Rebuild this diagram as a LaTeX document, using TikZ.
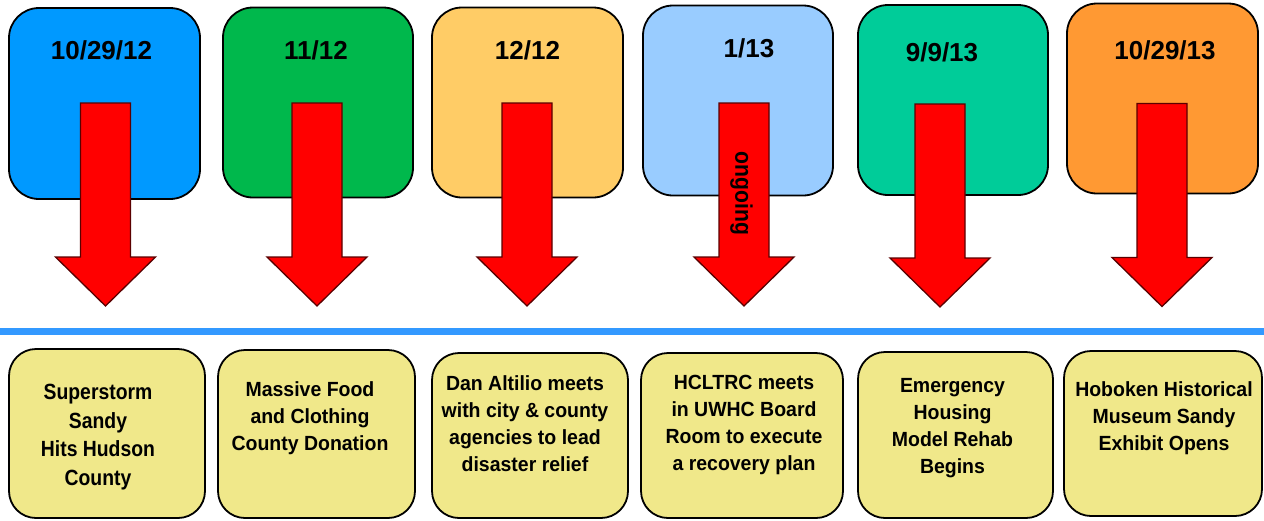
\documentclass[tikz,border=0pt]{standalone}
\usepackage{fontspec}
\setmainfont{Liberation Sans}
\newfontfamily\nA{Liberation Sans}[FakeStretch=0.88]
\newfontfamily\nB{Liberation Sans}[FakeStretch=0.95]
\definecolor{cA}{HTML}{0099FF}
\definecolor{cB}{HTML}{00B84C}
\definecolor{cC}{HTML}{FFCC66}
\definecolor{cD}{HTML}{99CCFF}
\definecolor{cE}{HTML}{00CC99}
\definecolor{cF}{HTML}{FF9933}
\definecolor{evfill}{HTML}{F0E88A}
\definecolor{lineblue}{HTML}{3399FF}
\definecolor{arrowred}{HTML}{FF0000}
\definecolor{arrowedge}{HTML}{5A0000}
\tikzset{
  topbox/.style={draw=black, line width=1.8pt, rounded corners=30pt, minimum width=190pt, minimum height=190pt, inner sep=0pt},
  botbox/.style={draw=black, line width=1.8pt, rounded corners=27pt, fill=evfill, inner sep=0pt},
  datelbl/.style={font=\bfseries\fontsize{26}{30}\selectfont, anchor=base, inner sep=0pt},
  evA/.style={font=\nA\bfseries\fontsize{22}{28.5}\selectfont, align=center, anchor=north, inner sep=0pt},
  evB/.style={font=\nB\bfseries\fontsize{20.5}{27}\selectfont, align=center, anchor=north, inner sep=0pt},
  redarrow/.style={fill=arrowred, draw=arrowedge, line width=1.3pt, line join=miter},
  arrowpic/.pic={\path[redarrow] (-25,103) -- (25,103) -- (25,257) -- (50,257) -- (0,306) -- (-50,257) -- (-25,257) -- cycle;}
}
\begin{document}
\begin{tikzpicture}[x=1pt,y=-1pt]
\useasboundingbox (0,0) rectangle (1264,520);
% top date boxes
\node[topbox, fill=cA, minimum width=191pt, minimum height=191pt] (d1) at (104.5,103.5) {};
\node[topbox, fill=cB] (d2) at (318,102.5) {};
\node[topbox, fill=cC, minimum width=191pt] (d3) at (527.5,102.5) {};
\node[topbox, fill=cD] (d4) at (738,100.5) {};
\node[topbox, fill=cE] (d5) at (953,100) {};
\node[topbox, fill=cF, minimum width=191pt] (d6) at (1162.5,98.5) {};
\node[datelbl] (l1) at (101.5,59) {10/29/12};
\node[datelbl] (l2) at (316,59) {11/12};
\node[datelbl] (l3) at (527.5,59) {12/12};
\node[datelbl] (l4) at (749,57) {1/13};
\node[datelbl] (l5) at (942,61) {9/9/13};
\node[datelbl] (l6) at (1165,59) {10/29/13};
% red arrows
\pic at (105.5,0) {arrowpic};
\pic at (317,0) {arrowpic};
\pic at (527,0) {arrowpic};
\pic at (744,0) {arrowpic};
\pic at (940,1) {arrowpic};
\pic at (1162,0.5) {arrowpic};
\node[rotate=-90, font=\nA\bfseries\fontsize{24}{28}\selectfont, inner sep=0pt] (og) at (741.5,193.5) {ongoing};
% timeline bar
\fill[lineblue] (0,328) rectangle (1264,335);
% event boxes
\node[botbox, minimum width=196pt, minimum height=169pt] (b1) at (107,433.5) {};
\node[botbox, minimum width=197pt, minimum height=168pt] (b2) at (316.5,434) {};
\node[botbox, minimum width=196pt, minimum height=165pt] (b3) at (530,435.5) {};
\node[botbox, minimum width=202pt, minimum height=165pt] (b4) at (742,435.5) {};
\node[botbox, minimum width=195pt, minimum height=166pt] (b5) at (955.5,435) {};
\node[botbox, minimum width=198pt, minimum height=165pt] (b6) at (1163,433.5) {};
\node[evA] (t1) at (98,384) {Superstorm\\Sandy\\Hits Hudson\\County};
\node[evB] (t2) at (310,381) {Massive Food\\and Clothing\\County Donation};
\node[evB] (t3) at (525,375) {Dan Altilio meets\\with city \& county\\agencies to lead\\disaster relief};
\node[evB] (t4) at (744,375) {HCLTRC meets\\in UWHC Board\\Room to execute\\a recovery plan};
\node[evB] (t5) at (952.5,378) {Emergency\\Housing\\Model Rehab\\Begins};
\node[evB] (t6) at (1164,381) {Hoboken Historical\\Museum Sandy\\Exhibit Opens};
\end{tikzpicture}
\end{document}
